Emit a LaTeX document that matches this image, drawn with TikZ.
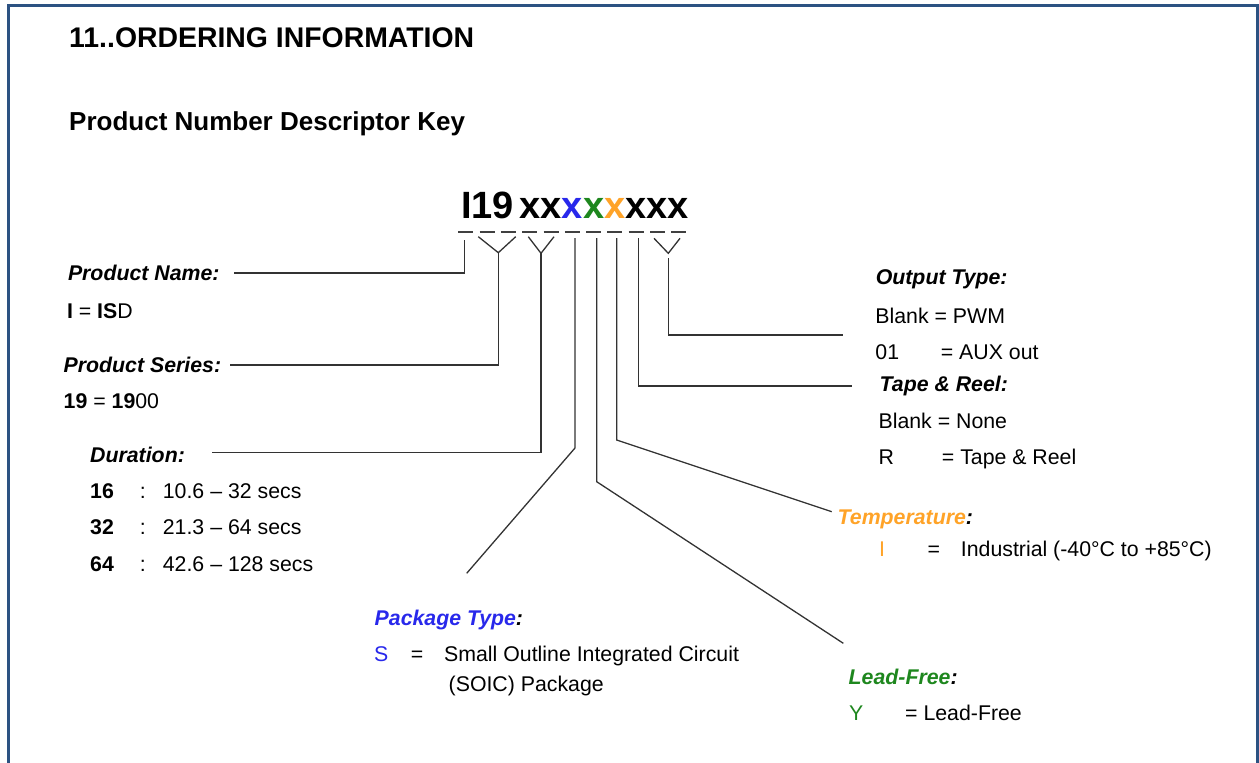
\documentclass[tikz,border=0pt]{standalone}
\usepackage{fontspec}
\setmainfont{Liberation Sans}
\usepackage{xcolor}
\usetikzlibrary{positioning,calc}

\definecolor{frameblue}{RGB}{44,82,130}
\definecolor{pkgblue}{RGB}{40,40,235}
\definecolor{leadgreen}{RGB}{30,135,30}
\definecolor{temporange}{RGB}{255,163,40}

\tikzset{
  keytext/.style={anchor=base west, inner sep=0pt, font=\fontsize{21.3}{25}\selectfont},
  keyhead/.style={keytext, font=\fontsize{21.3}{25}\selectfont\bfseries\itshape},
  leadline/.style={black!80, line width=1.3pt},
}

\begin{document}
\begin{tikzpicture}[x=1pt,y=-1pt]
    \useasboundingbox (0,0) rectangle (1259,763);
    \draw[frameblue, line width=2.6pt] (8.3,763) -- (8.3,5.3) -- (1257.3,5.3) -- (1257.3,763); % page frame

    \node[keytext, font=\fontsize{28.4}{32}\selectfont\bfseries] (title) at (69,47) {11..ORDERING INFORMATION};
    \node[keytext, font=\fontsize{26}{30}\selectfont\bfseries] (subtitle) at (69,130) {Product Number Descriptor Key};

    % part number and one dash per character
    \node[keytext, font=\fontsize{38}{42}\selectfont\bfseries] (partno) at (461,218.5)
        {I19\kern5.7pt xx\textcolor{pkgblue}{x}\textcolor{leadgreen}{x}\textcolor{temporange}{x}xxx};
    \foreach \i in {0,...,10}
        \draw[black!75, line width=1.5pt] ({458.3+21.3*\i},232) -- +(15,0);

    % left side
    \node[keyhead] (pname) at (67.8,280.7) {Product Name:};
    \node[keytext] (pnameval) at (66.8,318) {\textbf{I} = \textbf{IS}D};
    \node[keyhead] (pseries) at (63.5,372.7) {Product Series:};
    \node[keytext] (pseriesval) at (63.5,408.3) {\textbf{19} = \textbf{19}00};
    \node[keyhead] (dur) at (90,462.3) {Duration:};
    \foreach \code/\range [count=\k] in {16/10.6 -- 32 secs, 32/21.3 -- 64 secs, 64/42.6 -- 128 secs}
        \node[keytext] (dur\k) at (90,{461.7+36.6*\k}) {\makebox[49.7pt][l]{\textbf{\code}}\makebox[23pt][l]{:}\range};

    % bottom
    \node[keyhead] (pkg) at (374.5,625) {\textcolor{pkgblue}{Package Type}:};
    \node[keytext] (pkg1) at (374,661) {\makebox[36.7pt][l]{\textcolor{pkgblue}{S}}\makebox[33.3pt][l]{=}Small Outline Integrated Circuit};
    \node[keytext] (pkg2) at (448.5,691.5) {(SOIC) Package};

    % right side
    \node[keyhead] (otype) at (875.6,284.5) {Output Type:};
    \node[keytext] (otype1) at (875.2,323.3) {Blank = PWM};
    \node[keytext] (otype2) at (875.2,359.3) {\makebox[65.5pt][l]{01}= AUX out};
    \node[keyhead] (tape) at (879.5,391.7) {Tape \& Reel:};
    \node[keytext] (tape1) at (878.4,428.3) {Blank = None};
    \node[keytext] (tape2) at (878.4,464) {\makebox[63.3pt][l]{R}= Tape \& Reel};
    \node[keyhead] (temp) at (837.5,524.3) {\textcolor{temporange}{Temperature}:};
    \node[keytext] (temp1) at (879,556) {\makebox[48.3pt][l]{\textcolor{temporange}{I}}\makebox[33.4pt][l]{=}Industrial (-40°C to +85°C)};
    \node[keyhead] (lead) at (848.5,684) {\textcolor{leadgreen}{Lead-Free}:};
    \node[keytext] (lead1) at (849,720.7) {\makebox[56pt][l]{\textcolor{leadgreen}{Y}}= Lead-Free};

    % leader points
    \coordinate (nameTop) at (464.3,240);
    \coordinate (nameBend) at (464.3,273);
    \coordinate (nameEnd) at (234,273);
    \coordinate (seriesL) at (478.3,236.7);
    \coordinate (seriesR) at (515.7,236.7);
    \coordinate (seriesV) at (498.3,252.7);
    \coordinate (seriesBend) at (498.3,365);
    \coordinate (seriesEnd) at (230,365);
    \coordinate (durL) at (528.3,236.7);
    \coordinate (durR) at (554,236.7);
    \coordinate (durV) at (541,253.3);
    \coordinate (durBend) at (541,452.5);
    \coordinate (durEnd) at (211.7,452.5);
    \coordinate (pkgTop) at (575,238);
    \coordinate (pkgBend) at (575,448);
    \coordinate (pkgEnd) at (466.7,573.3);
    \coordinate (leadTop) at (596.7,238);
    \coordinate (leadBend) at (596.7,481.7);
    \coordinate (leadEnd) at (843.3,643.3);
    \coordinate (tempTop) at (616.7,238);
    \coordinate (tempBend) at (616.7,440);
    \coordinate (tempEnd) at (831.7,511.7);
    \coordinate (tapeTop) at (638.3,238);
    \coordinate (tapeBend) at (638.3,386);
    \coordinate (tapeEnd) at (852,386);
    \coordinate (outL) at (654,238.3);
    \coordinate (outR) at (680,238.3);
    \coordinate (outV) at (668.3,253.3);
    \coordinate (outTop) at (668.3,258.3);
    \coordinate (outBend) at (668.3,335);
    \coordinate (outEnd) at (843,335);

    % leaders
    \draw[leadline] (nameTop) -- (nameBend) -- (nameEnd); % I
    \draw[leadline] (seriesL) -- (seriesV) -- (seriesR); % 19
    \draw[leadline] (seriesV) -- (seriesBend) -- (seriesEnd);
    \draw[leadline] (durL) -- (durV) -- (durR); % duration
    \draw[leadline] (durV) -- (durBend) -- (durEnd);
    \draw[leadline] (pkgTop) -- (pkgBend) -- (pkgEnd); % package
    \draw[leadline] (leadTop) -- (leadBend) -- (leadEnd); % lead-free
    \draw[leadline] (tempTop) -- (tempBend) -- (tempEnd); % temperature
    \draw[leadline] (tapeTop) -- (tapeBend) -- (tapeEnd); % tape & reel
    \draw[leadline] (outL) -- (outV) -- (outR); % output
    \draw[leadline] (outTop) -- (outBend) -- (outEnd);
\end{tikzpicture}
\end{document}
